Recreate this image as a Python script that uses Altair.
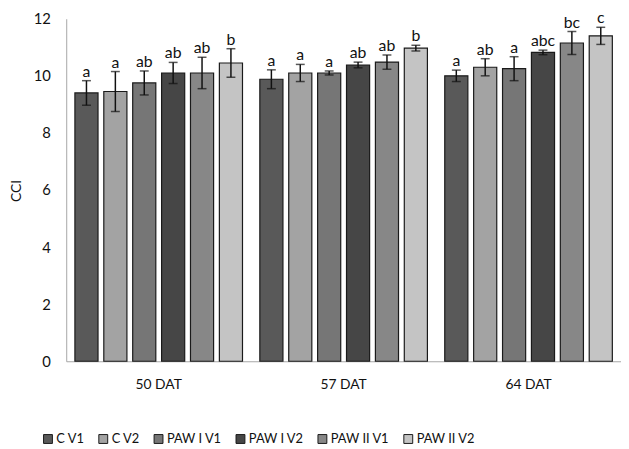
import altair as alt
import pandas as pd

days = ["50 DAT", "57 DAT", "64 DAT"]
series = ["C V1", "C V2", "PAW I V1", "PAW I V2", "PAW II V1", "PAW II V2"]
colors = ["#595959", "#a3a3a3", "#767676", "#464646", "#878787", "#c4c4c4"]

values = {
    "50 DAT": [9.40, 9.45, 9.75, 10.10, 10.10, 10.45],
    "57 DAT": [9.88, 10.10, 10.10, 10.38, 10.48, 10.97],
    "64 DAT": [10.00, 10.30, 10.25, 10.82, 11.15, 11.40],
}
errors = {
    "50 DAT": [0.43, 0.70, 0.42, 0.37, 0.55, 0.50],
    "57 DAT": [0.33, 0.30, 0.07, 0.10, 0.25, 0.10],
    "64 DAT": [0.20, 0.30, 0.42, 0.08, 0.40, 0.30],
}
letters = {
    "50 DAT": ["a", "a", "ab", "ab", "ab", "b"],
    "57 DAT": ["a", "a", "a", "ab", "ab", "b"],
    "64 DAT": ["a", "ab", "a", "abc", "bc", "c"],
}

rows = []
for d in days:
    for i, s in enumerate(series):
        v = values[d][i]
        e = errors[d][i]
        rows.append({"day": d, "series": s, "value": v, "lo": v - e, "hi": v + e,
                     "letter": letters[d][i]})
df = pd.DataFrame(rows)

FONT = "Lato"

x = alt.X("day:N", sort=days, title=None,
          scale=alt.Scale(paddingInner=0, paddingOuter=0),
          axis=alt.Axis(labelAngle=0, ticks=False, domainColor="#a6a6a6",
                        labelFontSize=14, labelColor="#111", labelPadding=17,
                        labelFont=FONT))
xo = alt.XOffset("series:N", sort=series,
                 scale=alt.Scale(paddingInner=0.2, paddingOuter=0.3))

base = alt.Chart(df)

bars = base.mark_bar(stroke="#1a1a1a", strokeWidth=1.2).encode(
    x=x,
    xOffset=xo,
    y=alt.Y("value:Q", title="CCI",
            scale=alt.Scale(domain=[0, 12], nice=False, zero=True),
            axis=alt.Axis(values=[0, 2, 4, 6, 8, 10, 12], grid=False, ticks=False,
                          domainColor="#a6a6a6", labelFontSize=15, labelColor="#111",
                          labelPadding=16, labelFont=FONT, titleFont=FONT,
                          titleFontSize=14, titleFontWeight="normal", titleColor="#111",
                          titleX=-43, titleY=174)),
    color=alt.Color("series:N", sort=series,
                    scale=alt.Scale(domain=series, range=colors),
                    legend=alt.Legend(title=None, orient="none", direction="horizontal",
                                      legendX=-25, legendY=419, symbolType="square",
                                      symbolSize=81, symbolStrokeColor="#1a1a1a",
                                      symbolStrokeWidth=1, labelFontSize=13,
                                      labelFont=FONT, labelColor="#111",
                                      columnPadding=12, labelOffset=2)),
)

rules = base.mark_rule(color="#111", strokeWidth=1.5).encode(
    x=x, xOffset=xo, y="lo:Q", y2="hi:Q")

caps_hi = base.mark_tick(color="#111", thickness=1.5, size=9, orient="horizontal").encode(
    x=x, xOffset=xo, y="hi:Q")
caps_lo = base.mark_tick(color="#111", thickness=1.5, size=9, orient="horizontal").encode(
    x=x, xOffset=xo, y="lo:Q")

labels = base.mark_text(baseline="bottom", dy=-1, fontSize=16, font=FONT, color="#111").encode(
    x=x, xOffset=xo, y="hi:Q", text="letter:N")

chart = alt.layer(bars, rules, caps_hi, caps_lo, labels).properties(
    width=562, height=347,
    autosize=alt.AutoSizeParams(type="none"),
    padding={"left": 59, "top": 8, "right": 0, "bottom": 86},
).configure_view(stroke=None)

chart.save("out.html", embed_options={"renderer": "svg", "actions": False})
